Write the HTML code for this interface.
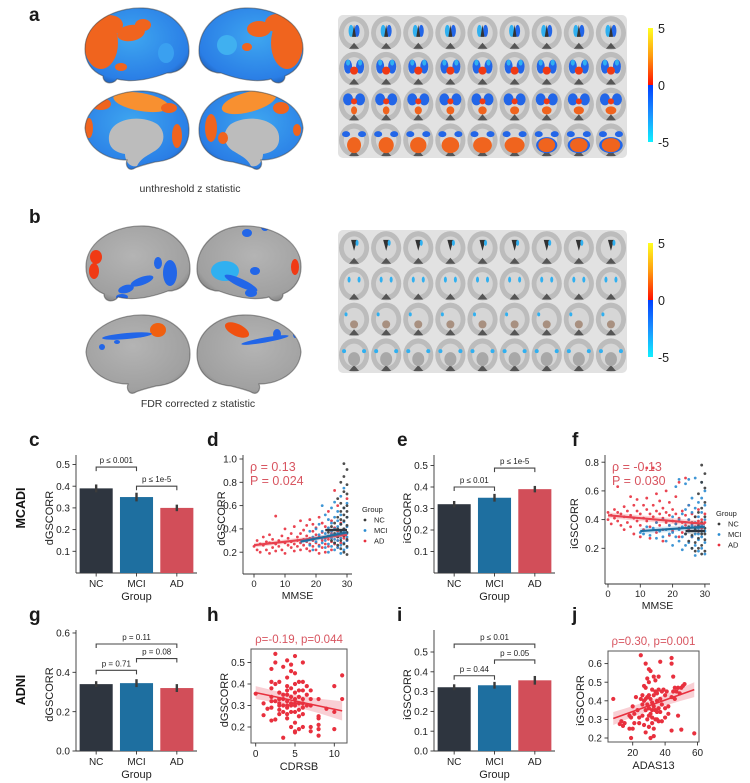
<!DOCTYPE html>
<html><head><meta charset="utf-8">
<style>
html,body{margin:0;padding:0;background:#fff;}
svg{display:block;font-family:"Liberation Sans",sans-serif;}
</style></head>
<body>
<svg id="fig" width="750" height="783" viewBox="0 0 750 783" xmlns="http://www.w3.org/2000/svg">
<defs>
  <linearGradient id="cbar" x1="0" y1="0" x2="0" y2="1">
    <stop offset="0" stop-color="#ffff20"/><stop offset="0.25" stop-color="#ff9a10"/><stop offset="0.5" stop-color="#ff1000"/>
    <stop offset="0.5" stop-color="#0040ff"/><stop offset="0.75" stop-color="#1a90ff"/><stop offset="1" stop-color="#10f0ff"/>
  </linearGradient>
  <radialGradient id="grayb" cx="0.45" cy="0.4" r="0.7"><stop offset="0" stop-color="#b4b4b4"/><stop offset="0.8" stop-color="#a0a0a0"/><stop offset="1" stop-color="#707070"/></radialGradient>
  <radialGradient id="blueb" cx="0.45" cy="0.4" r="0.7"><stop offset="0" stop-color="#3ea6f0"/><stop offset="0.8" stop-color="#2a7ee6"/><stop offset="1" stop-color="#1a50a0"/></radialGradient>
  <path id="lat" d="M4,44 C4,16 36,2 62,3 C88,4 108,22 108,46 C108,60 98,68 86,68 C70,74 52,78 36,74 C32,80 22,79 22,71 C10,66 4,56 4,44 Z"/>
  <path id="med" d="M4,40 C6,14 40,2 62,3 C88,4 108,20 108,42 C108,60 96,72 74,74 C66,76 58,78 54,80 C48,84 44,78 46,72 C28,72 6,62 4,40 Z"/>
</defs>
<g id="brains"></g>
<g id="slices"></g>
<g id="charts"></g>
</svg>
<script>
const NS="http://www.w3.org/2000/svg";
const fig=document.getElementById('fig');
function mk(tag,attrs,parent){const e=document.createElementNS(NS,tag);for(const k in attrs)e.setAttribute(k,attrs[k]);(parent||fig).appendChild(e);return e;}
function txt(x,y,s,attrs,parent){const t=mk('text',Object.assign({x:x,y:y},attrs||{}),parent);t.textContent=s;return t;}

/* ================= CHART DATA ================= */
const groups=["NC","MCI","AD"];
const cVals=[0.39,0.35,0.30]; const cErr=[0.018,0.02,0.015];
const cTicks=[0.1,0.2,0.3,0.4,0.5];
const cBrackets=[[0,1,0.488,"p ≤ 0.001"],[1,2,0.40,"p ≤ 1e-5"]];
const eVals=[0.32,0.35,0.39]; const eErr=[0.015,0.018,0.015];
const eTicks=[0.1,0.2,0.3,0.4,0.5];
const eBrackets=[[0,1,0.40,"p ≤ 0.01"],[1,2,0.488,"p ≤ 1e-5"]];
const gVals=[0.34,0.345,0.32]; const gErr=[0.015,0.02,0.02];
const gTicks=[0.0,0.2,0.4,0.6];
const gBrackets=[[0,1,0.41,"p = 0.71"],[1,2,0.47,"p = 0.08"],[0,2,0.544,"p = 0.11"]];
const iVals=[0.322,0.332,0.357]; const iErr=[0.015,0.017,0.022];
const iTicks=[0.0,0.1,0.2,0.3,0.4,0.5];
const iBrackets=[[0,1,0.38,"p = 0.44"],[1,2,0.46,"p = 0.05"],[0,2,0.54,"p ≤ 0.01"]];

const dAD=[[0,0.25],[1,0.22],[1,0.3],[2,0.27],[2,0.2],[3,0.33],[3,0.26],[4,0.29],[4,0.22],[5,0.35],[5,0.28],[5,0.19],[6,0.24],[6,0.31],[7,0.27],[7,0.51],[7,0.21],[8,0.3],[8,0.25],[9,0.34],[9,0.22],[10,0.28],[10,0.4],[10,0.19],[11,0.26],[11,0.32],[12,0.24],[12,0.36],[12,0.29],[13,0.42],[13,0.27],[13,0.21],[14,0.33],[14,0.25],[14,0.3],[15,0.47],[15,0.28],[15,0.22],[15,0.36],[16,0.31],[16,0.26],[16,0.39],[17,0.43],[17,0.29],[17,0.23],[17,0.34],[18,0.27],[18,0.48],[18,0.32],[18,0.21],[19,0.38],[19,0.3],[19,0.25],[19,0.44],[20,0.35],[20,0.28],[20,0.22],[20,0.41],[21,0.5],[21,0.33],[21,0.26],[21,0.19],[22,0.37],[22,0.3],[22,0.24],[22,0.45],[23,0.42],[23,0.32],[23,0.27],[23,0.2],[24,0.39],[24,0.31],[24,0.25],[24,0.55],[25,0.36],[25,0.29],[25,0.22],[25,0.47],[26,0.73],[26,0.34],[26,0.27],[26,0.41],[27,0.38],[27,0.3],[27,0.24],[27,0.6],[28,0.35],[28,0.28],[28,0.45],[29,0.32],[29,0.4],[30,0.3],[30,0.66]];
const dMCI=[[17,0.3],[18,0.26],[18,0.38],[19,0.33],[19,0.22],[20,0.4],[20,0.29],[21,0.35],[21,0.25],[21,0.44],[22,0.32],[22,0.28],[22,0.6],[22,0.38],[23,0.36],[23,0.3],[23,0.24],[23,0.52],[24,0.41],[24,0.34],[24,0.27],[24,0.2],[24,0.48],[25,0.38],[25,0.32],[25,0.25],[25,0.45],[25,0.58],[26,0.4],[26,0.34],[26,0.28],[26,0.22],[26,0.5],[26,0.63],[27,0.42],[27,0.36],[27,0.3],[27,0.24],[27,0.55],[27,0.47],[28,0.44],[28,0.38],[28,0.32],[28,0.26],[28,0.19],[28,0.68],[28,0.52],[29,0.46],[29,0.4],[29,0.34],[29,0.28],[29,0.22],[29,0.58],[29,0.75],[30,0.42],[30,0.36],[30,0.3],[30,0.24],[30,0.5],[30,0.62],[28,0.35],[27,0.33],[29,0.37],[30,0.33],[26,0.31],[25,0.35]];
const dNC=[[24,0.37],[25,0.42],[25,0.3],[26,0.45],[26,0.36],[26,0.28],[27,0.5],[27,0.4],[27,0.33],[27,0.26],[27,0.66],[28,0.55],[28,0.44],[28,0.37],[28,0.3],[28,0.23],[28,0.8],[28,0.62],[29,0.58],[29,0.47],[29,0.4],[29,0.34],[29,0.27],[29,0.2],[29,0.72],[29,0.85],[29,0.96],[30,0.6],[30,0.5],[30,0.43],[30,0.37],[30,0.31],[30,0.25],[30,0.18],[30,0.7],[30,0.78],[30,0.91],[30,0.55],[29,0.52],[28,0.48]];
const dFits=[[0,0.26,30,0.35],[15,0.29,30,0.37],[23,0.39,30,0.39]];
const dTicksX=[0,10,20,30]; const dTicksY=[0.2,0.4,0.6,0.8,1.0];

const fAD=[[0,0.45],[0,0.4],[1,0.43],[1,0.37],[2,0.47],[2,0.41],[3,0.39],[3,0.45],[3,0.63],[4,0.36],[4,0.44],[5,0.49],[5,0.42],[5,0.33],[6,0.46],[6,0.38],[7,0.56],[7,0.43],[7,0.35],[8,0.5],[8,0.41],[8,0.3],[9,0.46],[9,0.39],[9,0.54],[10,0.44],[10,0.36],[10,0.28],[11,0.5],[11,0.41],[11,0.33],[12,0.47],[12,0.39],[12,0.55],[12,0.76],[13,0.44],[13,0.35],[13,0.27],[14,0.5],[14,0.42],[14,0.76],[15,0.46],[15,0.38],[15,0.31],[15,0.58],[16,0.44],[16,0.36],[16,0.53],[17,0.48],[17,0.41],[17,0.33],[17,0.25],[18,0.45],[18,0.38],[18,0.6],[19,0.43],[19,0.36],[19,0.29],[19,0.52],[20,0.47],[20,0.39],[20,0.32],[21,0.44],[21,0.37],[21,0.56],[22,0.41],[22,0.34],[22,0.28],[22,0.66],[23,0.46],[23,0.38],[23,0.31],[24,0.43],[24,0.36],[24,0.69],[25,0.4],[25,0.33],[25,0.5],[26,0.44],[26,0.37],[26,0.28],[27,0.42],[27,0.35],[28,0.39],[28,0.32],[28,0.47],[29,0.4],[29,0.34],[30,0.38],[30,0.44]];
const fMCI=[[10,0.31],[11,0.3],[12,0.35],[13,0.29],[14,0.34],[15,0.27],[15,0.38],[16,0.32],[17,0.28],[17,0.4],[18,0.33],[18,0.25],[19,0.36],[19,0.3],[20,0.42],[20,0.31],[20,0.22],[21,0.37],[21,0.28],[21,0.63],[22,0.4],[22,0.33],[22,0.25],[22,0.68],[23,0.44],[23,0.35],[23,0.28],[23,0.19],[24,0.47],[24,0.38],[24,0.3],[24,0.22],[24,0.65],[25,0.5],[25,0.4],[25,0.32],[25,0.24],[25,0.68],[26,0.45],[26,0.36],[26,0.28],[26,0.2],[26,0.55],[27,0.48],[27,0.38],[27,0.3],[27,0.22],[27,0.15],[27,0.69],[28,0.52],[28,0.42],[28,0.34],[28,0.26],[28,0.18],[29,0.55],[29,0.45],[29,0.36],[29,0.28],[29,0.2],[29,0.66],[30,0.5],[30,0.4],[30,0.32],[30,0.24],[30,0.16],[30,0.6],[28,0.3],[29,0.32],[27,0.34]];
const fNC=[[24,0.3],[25,0.35],[25,0.25],[26,0.38],[26,0.29],[26,0.2],[27,0.42],[27,0.33],[27,0.24],[27,0.18],[28,0.45],[28,0.36],[28,0.27],[28,0.2],[28,0.58],[29,0.48],[29,0.38],[29,0.3],[29,0.22],[29,0.16],[29,0.66],[29,0.78],[30,0.52],[30,0.42],[30,0.34],[30,0.26],[30,0.18],[30,0.62],[30,0.72],[30,0.3]];
const fFits=[[0,0.43,30,0.37],[10,0.32,30,0.35],[24,0.32,30,0.32]];
const fTicksX=[0,10,20,30]; const fTicksY=[0.2,0.4,0.6,0.8];

const hPts=[[0,0.355],[1,0.31],[1,0.255],[1.5,0.285],[2,0.47],[2,0.41],[2,0.38],[2,0.34],[2,0.29],[2,0.23],[2.5,0.54],[2.5,0.5],[2.5,0.4],[2.5,0.32],[2.5,0.235],[3,0.41],[3,0.36],[3,0.33],[3,0.28],[3,0.26],[3.5,0.48],[3.5,0.35],[3.5,0.3],[3.5,0.27],[3.5,0.15],[4,0.51],[4,0.43],[4,0.39],[4,0.35],[4,0.32],[4,0.29],[4,0.26],[4,0.24],[4.5,0.49],[4.5,0.46],[4.5,0.38],[4.5,0.34],[4.5,0.31],[4.5,0.27],[4.5,0.2],[5,0.53],[5,0.45],[5,0.4],[5,0.36],[5,0.33],[5,0.3],[5,0.27],[5,0.22],[5,0.18],[5,0.175],[5.5,0.41],[5.5,0.37],[5.5,0.34],[5.5,0.31],[5.5,0.25],[5.5,0.19],[6,0.5],[6,0.41],[6,0.37],[6,0.33],[6,0.29],[6,0.26],[6,0.2],[6.5,0.39],[6.5,0.35],[6.5,0.3],[7,0.37],[7,0.33],[7,0.2],[7,0.18],[8,0.33],[8,0.25],[8,0.24],[8,0.21],[8,0.19],[8,0.16],[9,0.285],[10,0.39],[10,0.27],[10,0.19],[11,0.44],[11,0.33],[4,0.37],[3,0.31],[4.5,0.3],[5,0.31],[3.5,0.33],[6,0.31],[4,0.3],[2,0.32],[3,0.3],[5.5,0.28],[7,0.3],[3,0.33]];
const hFit=[0,0.36,11,0.275]; const hCI=[0.03,0.012,0.045];
const hTicksX=[0,5,10]; const hTicksY=[0.2,0.3,0.4,0.5];
const jPts=[[8,0.41],[12,0.275],[13,0.29],[14,0.265],[15,0.28],[18,0.32],[18,0.25],[19,0.2],[19,0.31],[20,0.25],[20,0.37],[21,0.33],[21,0.28],[22,0.42],[23,0.35],[24,0.28],[24,0.31],[25,0.645],[25,0.41],[26,0.38],[26,0.32],[27,0.48],[27,0.4],[27,0.27],[28,0.6],[28,0.47],[28,0.35],[28,0.23],[29,0.52],[29,0.42],[29,0.38],[29,0.3],[30,0.57],[30,0.5],[30,0.43],[30,0.36],[30,0.26],[31,0.56],[31,0.41],[31,0.33],[31,0.2],[32,0.46],[32,0.39],[32,0.31],[32,0.28],[33,0.53],[33,0.43],[33,0.37],[33,0.21],[33,0.25],[34,0.51],[34,0.45],[34,0.35],[34,0.3],[35,0.44],[35,0.4],[35,0.34],[36,0.53],[36,0.46],[36,0.36],[36,0.29],[37,0.61],[37,0.41],[37,0.34],[38,0.45],[38,0.38],[38,0.29],[39,0.46],[40,0.43],[40,0.36],[40,0.31],[41,0.45],[42,0.37],[42,0.33],[44,0.63],[44,0.6],[44,0.42],[44,0.24],[45,0.53],[45,0.45],[46,0.47],[46,0.41],[47,0.45],[48,0.47],[48,0.32],[49,0.44],[50,0.47],[51,0.48],[52,0.49],[50,0.245],[58,0.225],[30,0.32],[35,0.3],[26,0.43],[32,0.35],[28,0.41]];
const jFit=[8,0.305,58,0.46]; const jCI=[0.035,0.012,0.04];
const jTicksX=[20,40,60]; const jTicksY=[0.2,0.3,0.4,0.5,0.6];

const COL={NC:"#2e353f",MCI:"#1e6fa0",AD:"#d24e59"};
const SC={NC:"#3a3a3a",MCI:"#2a8bd0",AD:"#e8303e"};
const charts=document.getElementById('charts');

/* ================= BAR CHARTS ================= */
function barChart(name,axX,axR,y0,ppu,topY,ticks,vals,errs,brk,ylab,ylabX){
  const g=mk('g',{},charts);
  
  
  const sy=v=>y0-v*ppu;
  const slot=(axR-axX)/3, bw=slot*0.82;
  mk('line',{x1:axX,y1:topY,x2:axX,y2:y0,stroke:'#333','stroke-width':0.9},g);
  mk('line',{x1:axX,y1:y0,x2:axR,y2:y0,stroke:'#333','stroke-width':0.9},g);
  ticks.forEach(t=>{
    mk('line',{x1:axX-3.5,y1:sy(t),x2:axX,y2:sy(t),stroke:'#333','stroke-width':0.9},g);
    const tl=txt(axX-6,sy(t)+3.6,t.toFixed(1),{'font-size':10,'text-anchor':'end',fill:'#222'},g);
    
    
  });
  vals.forEach((v,i)=>{
    const cx=axX+slot*(i+0.5);
    const r=mk('rect',{x:cx-bw/2,y:sy(v),width:bw,height:v*ppu,fill:COL[groups[i]]},g);
    
    
    const e=mk('line',{x1:cx,y1:sy(v+errs[i]),x2:cx,y2:sy(v-errs[i]),stroke:'#3c3c3c','stroke-width':2.4},g);
    
    
    mk('line',{x1:cx,y1:y0,x2:cx,y2:y0+3.5,stroke:'#333','stroke-width':0.9},g);
    const xl=txt(cx,y0+14,groups[i],{'font-size':10,'text-anchor':'middle',fill:'#222'},g);
    
    
  });
  const gl=txt((axX+axR)/2,y0+27,"Group",{'font-size':11,'text-anchor':'middle',fill:'#222'},g);
  
  
  brk.forEach(b=>{
    const x1=axX+slot*(b[0]+0.5), x2=axX+slot*(b[1]+0.5), y=sy(b[2]);
    const p=mk('path',{d:`M${x1},${y+4}V${y}H${x2}V${y+4}`,fill:'none',stroke:'#444','stroke-width':1.1},g);
    
    
    const bl=txt((x1+x2)/2,y-4,b[3],{'font-size':8,'text-anchor':'middle',fill:'#222'},g);
    
    
  });
  const yl=txt(0,0,ylab,{'font-size':11,'text-anchor':'middle',fill:'#222',transform:`translate(${ylabX},${(topY+y0)/2+4}) rotate(-90)`},g);
  
  
}
barChart('bar-chart-c',76,197,573,217,455,cTicks,cVals,cErr,cBrackets,'dGSCORR',53);
barChart('bar-chart-e',434,555,573,215,455,eTicks,eVals,eErr,eBrackets,'iGSCORR',411);
barChart('bar-chart-g',76,197,751,196.7,630,gTicks,gVals,gErr,gBrackets,'dGSCORR',53);
barChart('bar-chart-i',434,555,751,198,630,iTicks,iVals,iErr,iBrackets,'iGSCORR',411);

/* ================= MMSE SCATTERS ================= */
function mmseScatter(name,axX,x0px,xppu,y0,yppu,topY,botY,rightX,tx,ty,sets,fits,rho,P,ylab,ylabX,legX,legY){
  const g=mk('g',{},charts);
  
  
  const sx=v=>x0px+v*xppu, sy=v=>y0-v*yppu;
  mk('line',{x1:axX,y1:topY,x2:axX,y2:botY,stroke:'#333','stroke-width':0.9},g);
  mk('line',{x1:axX,y1:botY,x2:rightX,y2:botY,stroke:'#333','stroke-width':0.9},g);
  ty.forEach(t=>{
    mk('line',{x1:axX-3.5,y1:sy(t),x2:axX,y2:sy(t),stroke:'#333','stroke-width':0.9},g);
    const l=txt(axX-6,sy(t)+3.6,t.toFixed(1),{'font-size':10,'text-anchor':'end',fill:'#222'},g);
    
    
  });
  tx.forEach(t=>{
    mk('line',{x1:sx(t),y1:botY,x2:sx(t),y2:botY+3.5,stroke:'#333','stroke-width':0.9},g);
    const l=txt(sx(t),botY+13,String(t),{'font-size':9.5,'text-anchor':'middle',fill:'#222'},g);
    
    
  });
  const order=['AD','MCI','NC'];
  order.forEach((k,ki)=>{
    sets[ki].forEach(p=>{
      const c=mk('circle',{cx:sx(p[0]),cy:sy(p[1]),r:1.4,fill:SC[k],'fill-opacity':0.9},g);
      
      
    });
  });
  order.forEach((k,ki)=>{
    const f=fits[ki];
    const band=mk('path',{d:`M${sx(f[0])},${sy(f[1]+0.02)}L${sx(f[2])},${sy(f[3]+0.02)}L${sx(f[2])},${sy(f[3]-0.02)}L${sx(f[0])},${sy(f[1]-0.02)}Z`,fill:SC[k],'fill-opacity':0.2},g);
    
    
    const ln=mk('line',{x1:sx(f[0]),y1:sy(f[1]),x2:sx(f[2]),y2:sy(f[3]),stroke:k==='NC'?'#2e353f':(k==='MCI'?'#1e6fa0':'#e8404e'),'stroke-width':2.2},g);
    
    
  });
  const r1=txt(axX+7,topY+16,rho,{'font-size':12.5,fill:'#d85560'},g);
  
  
  const r2=txt(axX+7,topY+30,P,{'font-size':12.5,fill:'#d85560'},g);
  
  
  const xl=txt((axX+rightX)/2,botY+25,'MMSE',{'font-size':10.5,'text-anchor':'middle',fill:'#222'},g);
  
  
  const yl=txt(0,0,ylab,{'font-size':11,'text-anchor':'middle',fill:'#222',transform:`translate(${ylabX},${(topY+botY)/2+4}) rotate(-90)`},g);
  
  
  const lg=mk('g',{},g);
  
  
  txt(legX,legY,'Group',{'font-size':7.5,fill:'#222'},lg);
  ['NC','MCI','AD'].forEach((k,i)=>{
    const d=mk('circle',{cx:legX+3,cy:legY+8+i*10.5,r:1.4,fill:SC[k]},lg);
    
    
    const t=txt(legX+12,legY+10.5+i*10.5,k,{'font-size':7.5,fill:'#222'},lg);
    
    
  });
}
mmseScatter('scatter-d',243,254,3.1,575.5,116.5,455,574,352,dTicksX,dTicksY,[dAD,dMCI,dNC],dFits,'ρ = 0.13','P = 0.024','dGSCORR',225,362,512);
mmseScatter('scatter-f',605,608,3.23,577,143.5,455,584,710,fTicksX,fTicksY,[fAD,fMCI,fNC],fFits,'ρ = -0.13','P = 0.030','iGSCORR',578,716,516);

/* ================= BOXED SCATTERS ================= */
function boxScatter(name,bx,by,bw,bh,x0v,x0px,xppu,y0v,y0px,yppu,tx,ty,pts,fit,ci,title,xlab,ylab,ylabX){
  const g=mk('g',{},charts);
  
  
  const sx=v=>x0px+(v-x0v)*xppu, sy=v=>y0px-(v-y0v)*yppu;
  const band=mk('path',{d:`M${sx(fit[0])},${sy(fit[1]+ci[0])}Q${sx((fit[0]+fit[2])/2)},${sy((fit[1]+fit[3])/2+ci[1]*1.6)} ${sx(fit[2])},${sy(fit[3]+ci[2])}L${sx(fit[2])},${sy(fit[3]-ci[2])}Q${sx((fit[0]+fit[2])/2)},${sy((fit[1]+fit[3])/2-ci[1]*1.6)} ${sx(fit[0])},${sy(fit[1]-ci[0])}Z`,fill:'#f4a8b0','fill-opacity':0.55},g);
  
  
  pts.forEach(p=>{
    const c=mk('circle',{cx:sx(p[0]),cy:sy(p[1]),r:2.1,fill:'#e8303e'},g);
    
    
  });
  const ln=mk('line',{x1:sx(fit[0]),y1:sy(fit[1]),x2:sx(fit[2]),y2:sy(fit[3]),stroke:'#e8303e','stroke-width':1.6},g);
  
  
  mk('rect',{x:bx,y:by,width:bw,height:bh,fill:'none',stroke:'#555','stroke-width':1},g);
  ty.forEach(t=>{
    mk('line',{x1:bx-3.5,y1:sy(t),x2:bx,y2:sy(t),stroke:'#333','stroke-width':0.9},g);
    const l=txt(bx-6,sy(t)+3.6,t.toFixed(1),{'font-size':10,'text-anchor':'end',fill:'#222'},g);
    
    
  });
  tx.forEach(t=>{
    mk('line',{x1:sx(t),y1:by+bh,x2:sx(t),y2:by+bh+3.5,stroke:'#333','stroke-width':0.9},g);
    const l=txt(sx(t),by+bh+14,String(t),{'font-size':10,'text-anchor':'middle',fill:'#222'},g);
    
    
  });
  const tt=txt(bx+bw/2,by-6,title,{'font-size':11.5,'text-anchor':'middle',fill:'#d85560'},g);
  
  
  const xl=txt(bx+bw/2,by+bh+27,xlab,{'font-size':11,'text-anchor':'middle',fill:'#222'},g);
  
  
  const yl=txt(0,0,ylab,{'font-size':11,'text-anchor':'middle',fill:'#222',transform:`translate(${ylabX},${by+bh/2+4}) rotate(-90)`},g);
  
  
}
boxScatter('scatter-h',251,649,96,94,0,255.7,7.86,0.2,727,215,hTicksX,hTicksY,hPts,hFit,hCI,'ρ=-0.19, p=0.044','CDRSB','dGSCORR',228);
boxScatter('scatter-j',608,651,91,91,20,632.7,1.62,0.2,738,186,jTicksX,jTicksY,jPts,jFit,jCI,'ρ=0.30, p=0.001','ADAS13','iGSCORR',584);

/* ================= LABELS ================= */
[['a',29,21],['b',29,223],['c',29,446],['d',207,446],['e',397,446],['f',572,446],['g',29,621],['h',207,621],['i',397,621],['j',572,621]].forEach(l=>{
  const t=txt(l[1],l[2],l[0],{'font-size':19,'font-weight':'bold',fill:'#1a1a1a'});
  
  
});
[['MCADI',508],['ADNI',690]].forEach(l=>{
  const t=txt(0,0,l[0],{'font-size':12.5,'font-weight':'bold','text-anchor':'middle',fill:'#111',transform:`translate(25,${l[1]}) rotate(-90)`});
  
  
});
const cap1=txt(190,192,'unthreshold z statistic',{'font-size':10.5,'text-anchor':'middle',fill:'#333'});


const cap2=txt(198,407,'FDR corrected z statistic',{'font-size':10.5,'text-anchor':'middle',fill:'#333'});



/* ================= BRAINS ================= */
const brains=document.getElementById('brains');
function brain(name,x,y,mirror,shape,fill,blobs,medialWall){
  const g=mk('g',{transform:`translate(${x},${y})`+(mirror?' translate(110,0) scale(-1,1)':'')},brains);
  
  
  const cp='cp'+name;
  const clip=mk('clipPath',{id:cp},g); mk('use',{href:'#'+shape},clip);
  mk('use',{href:'#'+shape,fill:fill},g);
  const inner=mk('g',{'clip-path':`url(#${cp})`},g);
  if(medialWall) mk('path',{d:'M28,48 C30,30 60,26 76,36 C86,44 84,58 72,64 C66,68 60,70 56,78 C48,80 44,72 44,66 C32,64 27,58 28,48Z',fill:'#bcbcbc'},inner);
  blobs.forEach(b=>mk('ellipse',{cx:b[0],cy:b[1],rx:b[2],ry:b[3],fill:b[4],transform:`rotate(${b[5]||0} ${b[0]} ${b[1]})`},inner));
  mk('use',{href:'#'+shape,fill:'none',stroke:'#404040','stroke-opacity':0.5,'stroke-width':1.2},g);
}
const OR='#f0641e', RD='#f03a14', OY='#f89030', BL='#2266e8', CY='#30b0f0';
brain('brain-a-left-lateral',81,5,false,'lat','url(#blueb)',[[20,38,17,26,OR,0],[28,20,14,10,OR],[50,28,14,8,OR,-10],[62,20,8,6,OR],[40,62,6,4,OR],[85,48,8,10,'#3aa0f0']]);
brain('brain-a-right-lateral',197,5,true,'lat','url(#blueb)',[[20,38,16,26,OR,0],[30,18,12,9,OR],[48,24,12,8,OR],[60,42,5,4,OR],[80,40,10,10,'#40b0f0']]);
brain('brain-a-left-medial',81,88,false,'med','url(#blueb)',[[60,14,28,9,OY,10],[20,16,10,6,OR],[8,40,4,10,OR],[96,48,5,12,OR],[88,20,8,5,OR]],true);
brain('brain-a-right-medial',197,88,true,'med','url(#blueb)',[[58,14,28,10,OY,15],[26,20,8,6,OR],[96,40,6,14,OR],[84,50,5,6,OR],[10,42,4,6,OR]],true);
brain('brain-b-left-lateral',82,223,false,'lat','url(#grayb)',[[14,34,6,7,RD],[12,48,5,8,RD],[88,50,7,13,BL],[76,40,4,6,BL],[60,58,12,4,BL,-20],[44,66,8,4,BL,-15],[40,74,6,3,BL]]);
brain('brain-b-right-lateral',195,223,true,'lat','url(#grayb)',[[10,44,4,8,RD],[80,48,14,10,CY],[64,60,18,4,BL,-25],[58,10,5,4,BL],[40,4,4,4,BL],[50,48,5,4,BL],[54,70,6,4,BL]]);
brain('brain-b-left-medial',82,312,false,'med','url(#grayb)',[[76,18,8,7,'#f06010'],[45,24,25,3,BL,-5],[20,35,3,3,BL],[35,30,3,2,BL],[6,22,2,4,BL]]);
brain('brain-b-right-medial',195,312,true,'med','url(#grayb)',[[68,18,13,6,'#f05010',-25],[40,28,24,2.5,BL,10],[28,22,4,5,BL],[10,22,2,4,BL]]);

/* ================= SLICES ================= */
const slices=document.getElementById('slices');
function sliceGrid(name,x0,y0,thresholded){
  const g=mk('g',{},slices);
  
  
  const W=289,H=143,cw=W/9,rh=H/4;
  mk('rect',{x:x0,y:y0,width:W,height:H,rx:5,fill:'#e2e2e2'},g);
  for(let r=0;r<4;r++)for(let c=0;c<9;c++){
    const cx=x0+cw*(c+0.5), cy=y0+rh*(r+0.5);
    mk('ellipse',{cx:cx,cy:cy,rx:cw*0.47,ry:rh*0.47,fill:'#bcbcbc'},g);
    mk('ellipse',{cx:cx,cy:cy,rx:cw*0.32,ry:rh*0.32,fill:'#d6d6d6'},g);
    mk('path',{d:`M${cx-5},${y0+rh*(r+1)-2}L${cx},${y0+rh*(r+1)-8}L${cx+5},${y0+rh*(r+1)-2}Z`,fill:'#555'},g);
    if(!thresholded){
      if(r===0){mk('ellipse',{cx:cx-3,cy:cy-2,rx:2.5,ry:6,fill:CY},g);mk('ellipse',{cx:cx+3,cy:cy-2,rx:2.5,ry:6,fill:BL},g);mk('path',{d:`M${cx},${cy-8}L${cx-2},${cy+4}L${cx+2},${cy+4}Z`,fill:'#333'},g);}
      if(r===1){mk('ellipse',{cx:cx-6,cy:cy-2,rx:4,ry:7,fill:BL},g);mk('ellipse',{cx:cx+6,cy:cy-2,rx:4,ry:7,fill:BL},g);mk('ellipse',{cx:cx,cy:cy+2,rx:4,ry:4,fill:RD},g);mk('ellipse',{cx:cx-6,cy:cy-6,rx:2,ry:3,fill:CY},g);mk('ellipse',{cx:cx+6,cy:cy-6,rx:2,ry:3,fill:CY},g);}
      if(r===2){mk('ellipse',{cx:cx-6,cy:cy-5,rx:5,ry:6,fill:BL},g);mk('ellipse',{cx:cx+6,cy:cy-5,rx:5,ry:6,fill:BL},g);mk('ellipse',{cx:cx,cy:cy+6,rx:3+c*0.3,ry:4,fill:OR},g);mk('ellipse',{cx:cx,cy:cy-3,rx:3,ry:3,fill:RD},g);}
      if(r===3){mk('ellipse',{cx:cx-8,cy:cy-6,rx:4,ry:3,fill:BL},g);mk('ellipse',{cx:cx+8,cy:cy-6,rx:4,ry:3,fill:BL},g);mk('ellipse',{cx:cx,cy:cy+5,rx:7+c*0.6,ry:8,fill:c>5?BL:OR},g);mk('ellipse',{cx:cx,cy:cy+5,rx:6+c*0.4,ry:7,fill:OR},g);}
    }else{
      if(r===0){mk('path',{d:`M${cx-3},${cy-8}L${cx},${cy+3}L${cx+3},${cy-8}Z`,fill:'#333'},g);mk('ellipse',{cx:cx+3,cy:cy-5,rx:1.5,ry:3,fill:CY},g);}
      if(r===1){mk('ellipse',{cx:cx-5,cy:cy-4,rx:1.5,ry:3,fill:CY},g);mk('ellipse',{cx:cx+5,cy:cy-4,rx:1.5,ry:3,fill:CY},g);}
      if(r===2){mk('ellipse',{cx:cx,cy:cy+5,rx:4,ry:4,fill:'#a89080'},g);mk('ellipse',{cx:cx-8,cy:cy-5,rx:1.5,ry:2,fill:CY},g);}
      if(r===3){mk('ellipse',{cx:cx-10,cy:cy-4,rx:2,ry:2,fill:CY},g);mk('ellipse',{cx:cx+10,cy:cy-4,rx:2,ry:2,fill:CY},g);mk('ellipse',{cx:cx,cy:cy+4,rx:6,ry:7,fill:'#a8a8a8'},g);}
    }
  }
}
sliceGrid('slice-grid-a',338,15,false);
sliceGrid('slice-grid-b',338,230,true);
function colorbar(name,y){
  const g=mk('g',{},slices);
  
  
  mk('rect',{x:648,y:y,width:5,height:114,fill:'url(#cbar)'},g);
  [['5',0],['0',57],['-5',114]].forEach(l=>{
    const t=txt(658,y+l[1]+5,l[0],{'font-size':12.5,fill:'#222'},g);
    
    
  });
}
colorbar('colorbar-a',28);
colorbar('colorbar-b',243);
</script>
</body></html>
